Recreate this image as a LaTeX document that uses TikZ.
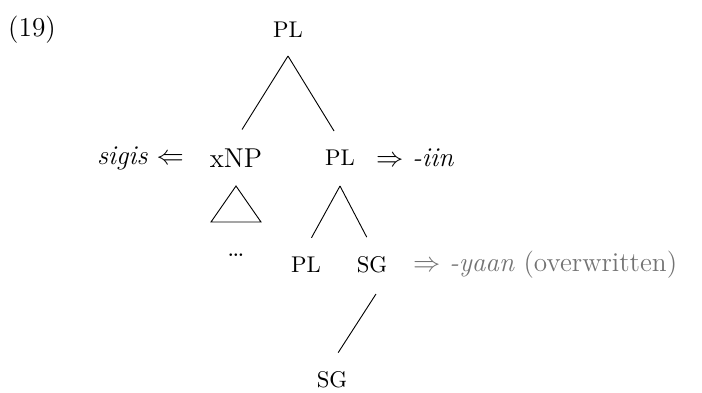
\documentclass[tikz,border=0pt,12pt]{standalone}
\usepackage{amssymb}
\usepackage{tikz}
\usetikzlibrary{positioning,calc}

\begin{document}
\begin{tikzpicture}[
    x=0.44pt, y=-0.44pt,
    cat/.style={font=\footnotesize},
    branch/.style={shorten >=5pt},
    ghost/.style={text=black!55}
    ]
    \useasboundingbox (0,0) rectangle (702,392);
    \node (ex) at (32,30) {(19)};
    \node[cat] (top) at (288,30) {PL};
    \node (xnp) at (236,158) {xNP};
    \node[cat] (plmid) at (340,158) {PL};
    \node[left=3pt of xnp] (sigis) {\textit{sigis} $\Leftarrow$};
    \node[right=1pt of plmid] (iin) {$\Rightarrow$ \textit{-iin}};
    \node (dots) at (236,255) {\dots};
    \node[cat] (pllow) at (306,265) {PL};
    \node[cat] (sg) at (372,265) {SG};
    \node[ghost, right=3pt of sg] (yaan) {$\Rightarrow$ \textit{-yaan} (overwritten)};
    \node[cat] (sglow) at (332,380) {SG};
    \coordinate (topfoot) at ($(top)+(0,26)$);
    \coordinate (plfoot) at ($(plmid)+(0,28)$);
    \coordinate (sgfoot) at ($(sg)+(4,29)$);
    \draw[branch] (topfoot) -- (xnp.north);
    \draw[branch] (topfoot) -- (plmid.north);
    \draw ($(xnp)+(0,28)$) -- ++(-25,36) -- ++(50,0) -- cycle;
    \draw[branch] (plfoot) -- (pllow.north);
    \draw[branch] (plfoot) -- (sg.north);
    \draw[branch] (sgfoot) -- (sglow.north);
\end{tikzpicture}
\end{document}
